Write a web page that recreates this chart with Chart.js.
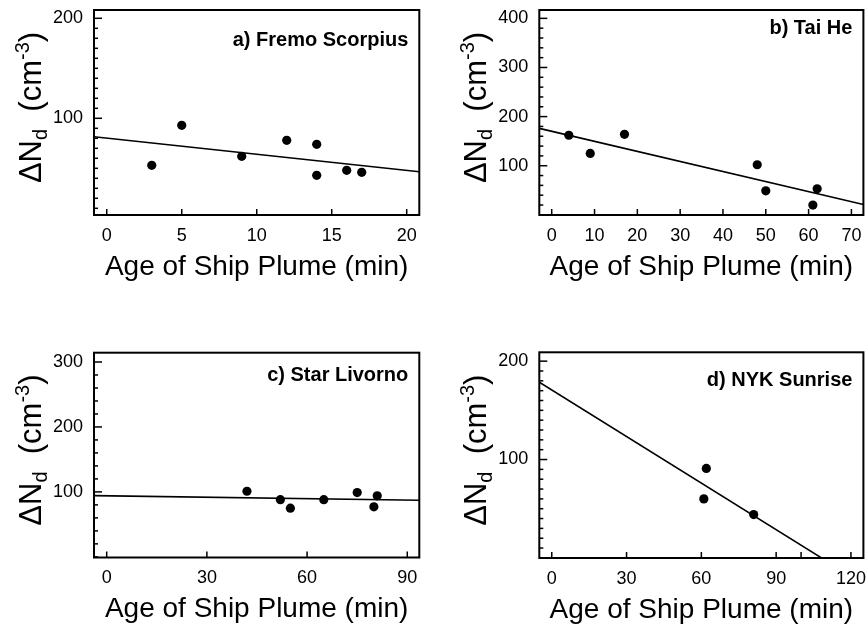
<!DOCTYPE html>
<html>
<head>
<meta charset="utf-8">
<script src="https://cdn.jsdelivr.net/npm/chart.js@4.4.0/dist/chart.umd.min.js"></script>
<style>
  html, body { margin: 0; padding: 0; background: #fff; }
  #wrap { position: relative; width: 868px; height: 628px; }
  .panel { position: absolute; width: 434px; height: 314px; }
</style>
</head>
<body>
<div id="wrap">
  <div class="panel" style="left:0;top:0"><canvas id="chartA" width="434" height="314"></canvas></div>
  <div class="panel" style="left:434px;top:0"><canvas id="chartB" width="434" height="314"></canvas></div>
  <div class="panel" style="left:0;top:314px"><canvas id="chartC" width="434" height="314"></canvas></div>
  <div class="panel" style="left:434px;top:314px"><canvas id="chartD" width="434" height="314"></canvas></div>
</div>
<script>
/* ---- data ---- */

// a) Fremo Scorpius
const aAge = [3, 5, 9, 12, 14, 14, 16, 17];
const aNd = [53, 93, 62, 78, 74, 43, 48, 46];
const aFitAge = [-0.85, 20.84];
const aFitNd = [81.5, 46.5];
const aXTicks = [0, 5, 10, 15, 20];
const aYTicks = [100, 200];

// b) Tai He
const bAge = [4, 9, 17, 48, 50, 61, 62];
const bNd = [162, 125, 164, 102, 49, 20, 53];
const bFitAge = [-2.9, 72.8];
const bFitNd = [176, 21];
const bXTicks = [0, 10, 20, 30, 40, 50, 60, 70];
const bYTicks = [100, 200, 300, 400];

// c) Star Livorno
const cAge = [42, 52, 55, 65, 75, 80, 81];
const cNd = [101, 88, 75, 88, 99, 77, 94];
const cFitAge = [-3.8, 93.6];
const cFitNd = [94.3, 87.2];
const cXTicks = [0, 30, 60, 90];
const cYTicks = [100, 200, 300];

// d) NYK Sunrise
const dAge = [61, 62, 81];
const dNd = [60, 91, 44];
const dFitAge = [-5, 108.2];
const dFitNd = [178.6, 0];
const dXTicks = [0, 30, 60, 90, 120];
const dXExtraTicks = [100];
const dYTicks = [100, 200];

const FONT = "'Liberation Sans', Arial, Helvetica, sans-serif";
Chart.defaults.font.family = FONT;
Chart.defaults.color = '#000';

const Y_W = 60;   // forced y axis width
const X_H = 75;   // forced x axis height

/* frame, inward ticks, y title with sub/superscript, panel label */
const framePlugin = {
  id: 'frame',
  afterDraw(chart, args, o) {
    const { ctx, chartArea: ca, scales } = chart;
    ctx.save();
    ctx.strokeStyle = '#000';
    ctx.fillStyle = '#000';

    // y ticks (inside, left edge)
    ctx.lineWidth = 1.5;
    scales.y.ticks.forEach(t => {
      const py = scales.y.getPixelForValue(t.value);
      const len = o.yMajor.includes(t.value) ? 8 : 4;
      ctx.beginPath();
      ctx.moveTo(ca.left, py);
      ctx.lineTo(ca.left + len, py);
      ctx.stroke();
    });
    // x ticks (inside, bottom edge)
    scales.x.ticks.forEach(t => {
      const px = scales.x.getPixelForValue(t.value);
      ctx.beginPath();
      ctx.moveTo(px, ca.bottom);
      ctx.lineTo(px, ca.bottom - 6);
      ctx.stroke();
    });

    // frame
    ctx.lineWidth = 2;
    ctx.strokeRect(ca.left, ca.top, ca.right - ca.left, ca.bottom - ca.top);

    // y title: ΔNd (cm-3)
    const big = '31px ' + FONT, small = '20px ' + FONT;
    const parts = [
      { t: '\u0394N', f: big, dy: 0 },
      { t: 'd', f: small, dy: 6 },
      { t: '  (cm', f: big, dy: 0 },
      { t: '-3', f: small, dy: -12 },
      { t: ')', f: big, dy: 0 }
    ];
    let total = 0;
    parts.forEach(p => { ctx.font = p.f; p.w = ctx.measureText(p.t).width; total += p.w; });
    ctx.translate(ca.left - 53, (ca.top + ca.bottom) / 2 - 5);
    ctx.rotate(-Math.PI / 2);
    ctx.textBaseline = 'alphabetic';
    ctx.textAlign = 'left';
    let x = -total / 2;
    parts.forEach(p => { ctx.font = p.f; ctx.fillText(p.t, x, p.dy); x += p.w; });
    ctx.setTransform(1, 0, 0, 1, 0, 0);

    // panel label
    ctx.font = 'bold 20px ' + FONT;
    ctx.textAlign = 'right';
    ctx.textBaseline = 'alphabetic';
    ctx.fillText(o.label, ca.right - 11, ca.top + o.labelDy);
    ctx.restore();
  }
};

function makePanel(id, p) {
  const yStep = p.yStep;
  new Chart(document.getElementById(id), {
    type: 'scatter',
    data: {
      datasets: [
        {
          data: p.fitAge.map((v, i) => ({ x: v, y: p.fitNd[i] })),
          showLine: true,
          borderColor: '#000',
          borderWidth: 1.6,
          pointRadius: 0,
          fill: false
        },
        {
          data: p.age.map((v, i) => ({ x: v, y: p.nd[i] })),
          pointRadius: 4.6,
          backgroundColor: '#000',
          borderWidth: 0
        }
      ]
    },
    options: {
      responsive: false,
      animation: false,
      events: [],
      layout: {
        padding: {
          left: p.area.left - Y_W,
          top: p.area.top,
          right: 434 - p.area.right,
          bottom: 314 - p.area.bottom - X_H
        }
      },
      plugins: {
        legend: { display: false },
        tooltip: { enabled: false },
        frame: { label: p.label, labelDy: p.labelDy, yMajor: p.yTicks }
      },
      scales: {
        x: {
          type: 'linear',
          min: p.xMin,
          max: p.xMax,
          afterBuildTicks: s => {
            s.ticks = p.xTicks.concat(p.xExtra || []).map(v => ({ value: v }));
          },
          afterFit: s => {
            s.height = X_H;
            s.paddingLeft = 0; s.paddingRight = 0;
          },
          grid: { display: false, drawTicks: false },
          border: { display: false },
          ticks: {
            padding: 10,
            autoSkip: false,
            maxRotation: 0,
            font: { size: 18 },
            color: '#000',
            callback: v => p.xTicks.includes(v) ? String(v) : ''
          },
          title: {
            display: true,
            text: 'Age of Ship Plume (min)',
            font: { size: 28 },
            color: '#000',
            padding: { top: 0, bottom: 6 }
          }
        },
        y: {
          type: 'linear',
          min: p.yMin,
          max: p.yMax,
          afterBuildTicks: s => {
            const t = [];
            for (let v = Math.ceil(p.yMin / yStep) * yStep; v <= p.yMax; v += yStep) t.push({ value: v });
            s.ticks = t;
          },
          afterFit: s => {
            s.width = Y_W;
            s.paddingTop = 0; s.paddingBottom = 0;
          },
          grid: { display: false, drawTicks: false },
          border: { display: false },
          ticks: {
            padding: 11,
            autoSkip: false,
            font: { size: 18 },
            color: '#000',
            callback: v => p.yTicks.includes(v) ? String(v) : ''
          }
        }
      }
    },
    plugins: [framePlugin]
  });
}

makePanel('chartA', {
  age: aAge, nd: aNd, fitAge: aFitAge, fitNd: aFitNd,
  xTicks: aXTicks, yTicks: aYTicks, yStep: 10,
  xMin: -0.85, xMax: 20.84, yMin: 3.3, yMax: 208.3,
  area: { left: 94, right: 419.3, top: 10, bottom: 215 },
  label: 'a) Fremo Scorpius', labelDy: 36
});

makePanel('chartB', {
  age: bAge, nd: bNd, fitAge: bFitAge, fitNd: bFitNd,
  xTicks: bXTicks, yTicks: bYTicks, yStep: 20,
  xMin: -2.9, xMax: 72.8, yMin: -0.3, yMax: 417,
  area: { left: 105.3, right: 430.3, top: 10, bottom: 215 },
  label: 'b) Tai He', labelDy: 24
});

makePanel('chartC', {
  age: cAge, nd: cNd, fitAge: cFitAge, fitNd: cFitNd,
  xTicks: cXTicks, yTicks: cYTicks, yStep: 20,
  xMin: -3.8, xMax: 93.6, yMin: -1, yMax: 314.3,
  area: { left: 94, right: 419.3, top: 38.7, bottom: 243.5 },
  label: 'c) Star Livorno', labelDy: 28
});

makePanel('chartD', {
  age: dAge, nd: dNd, fitAge: dFitAge, fitNd: dFitNd,
  xTicks: dXTicks, xExtra: dXExtraTicks, yTicks: dYTicks, yStep: 10,
  xMin: -5, xMax: 125, yMin: -0.1, yMax: 209,
  area: { left: 105.3, right: 430.3, top: 38.3, bottom: 244 },
  label: 'd) NYK Sunrise', labelDy: 34
});
</script>
</body>
</html>
